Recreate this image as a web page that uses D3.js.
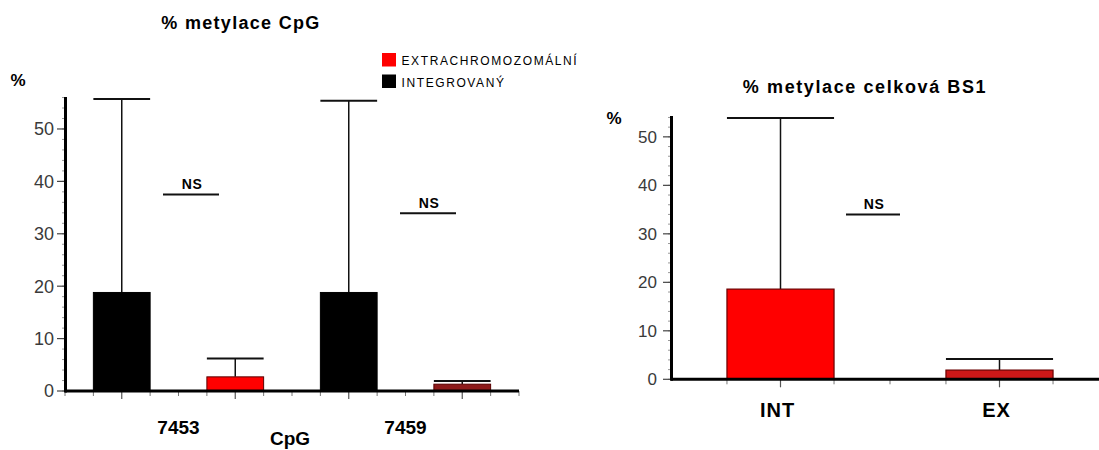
<!DOCTYPE html>
<html>
<head>
<meta charset="utf-8">
<script src="https://cdn.jsdelivr.net/npm/d3@7"></script>
<style>
  html, body { margin: 0; padding: 0; background: #fff; }
  svg { display: block; font-family: "Liberation Sans", Arial, sans-serif; }
</style>
</head>
<body>
<svg id="chart" width="1099" height="450"></svg>
<script>
// ---- Data: methylation per CpG site ----
const cpgSites = ["7453", "7459"];
const seriesNames = ["INTEGROVANÝ", "EXTRACHROMOZOMÁLNÍ"];
const integratedMean = [18.8, 18.8];
const integratedErr = [55.7, 55.4];      // upper end of error bar
const extraMean = [2.7, 1.3];
const extraErr = [6.2, 1.9];
const cpgNsLevel = [37.5, 33.9];
const cpgTicks = [0, 10, 20, 30, 40, 50];

// ---- Data: overall methylation BS1 ----
const bsGroups = ["INT", "EX"];
const bsMean = [18.6, 1.9];
const bsErr = [53.9, 4.2];
const bsNsLevel = [34.0];
const bsTicks = [0, 10, 20, 30, 40, 50];

const svg = d3.select("#chart");

function yAxisDraw(g, y, x0, ticks, fontSize, labelRight) {
  const [lo, hi] = y.domain();
  // minor ticks
  d3.range(0, Math.floor(hi) + 1, 2).forEach(v => {
    g.append("line").attr("x1", x0 - 3).attr("x2", x0)
      .attr("y1", y(v)).attr("y2", y(v))
      .attr("stroke", "#999").attr("stroke-width", 1);
  });
  ticks.forEach(v => {
    g.append("line").attr("x1", x0 - 8).attr("x2", x0)
      .attr("y1", y(v)).attr("y2", y(v))
      .attr("stroke", "#444").attr("stroke-width", 1.2);
    g.append("text").attr("x", labelRight).attr("y", y(v))
      .attr("dy", "0.36em").attr("text-anchor", "end")
      .attr("font-size", fontSize).attr("fill", "#3a3a3a")
      .text(v);
  });
  // axis spine
  g.append("line").attr("x1", x0 + 0.5).attr("x2", x0 + 0.5)
    .attr("y1", y(hi)).attr("y2", y(lo) + 1.5)
    .attr("stroke", "#000").attr("stroke-width", 3);
}

function errorBar(g, cx, halfW, yTop, yEnd) {
  g.append("line").attr("x1", cx).attr("x2", cx)
    .attr("y1", yTop).attr("y2", yEnd)
    .attr("stroke", "#111").attr("stroke-width", 1.5);
  g.append("line").attr("x1", cx - halfW).attr("x2", cx + halfW)
    .attr("y1", yEnd).attr("y2", yEnd)
    .attr("stroke", "#111").attr("stroke-width", 2);
}

function nsMark(g, cx, yLine, halfW) {
  g.append("line").attr("x1", cx - halfW).attr("x2", cx + halfW)
    .attr("y1", yLine).attr("y2", yLine)
    .attr("stroke", "#111").attr("stroke-width", 2);
  g.append("text").attr("x", cx + 1).attr("y", yLine - 5)
    .attr("text-anchor", "middle").attr("font-size", 14)
    .attr("font-weight", "bold").attr("letter-spacing", "0.5px")
    .text("NS");
}

// ================= Left chart: % metylace CpG =================
{
  const g = svg.append("g");
  const x0 = 65, x1 = 519;
  const y = d3.scaleLinear().domain([0, 56.1]).range([391, 97]);
  const xCat = d3.scaleBand().domain(cpgSites).range([x0, x1]).padding(0);
  const xSer = d3.scaleBand().domain(seriesNames).range([0, xCat.bandwidth()])
    .paddingInner(0.5).paddingOuter(0.25);
  const redFill = ["#ff0000", "#8e1b1b"];

  g.append("text").attr("x", 241).attr("y", 29).attr("text-anchor", "middle")
    .attr("font-size", 18).attr("font-weight", "bold").attr("letter-spacing", "1.3px")
    .text("% metylace CpG");
  g.append("text").attr("x", 18).attr("y", 86).attr("text-anchor", "middle")
    .attr("font-size", 17).attr("font-weight", "bold").text("%");

  // legend
  const legendItems = [
    { name: seriesNames[1], color: "#ff0000" },
    { name: seriesNames[0], color: "#000" }
  ];
  legendItems.forEach((d, i) => {
    const ly = 53 + i * 21.5;
    g.append("rect").attr("x", 382).attr("y", ly).attr("width", 14).attr("height", 13.5)
      .attr("fill", d.color);
    g.append("text").attr("x", 401.5).attr("y", ly + 12).attr("font-size", 12)
      .attr("letter-spacing", "1.6px").attr("fill", "#000").text(d.name);
  });

  // baseline ticks
  const minorX = [];
  cpgSites.forEach(c => {
    const b = xCat(c);
    minorX.push(b, b + xCat.bandwidth() / 2);
    seriesNames.forEach(s => {
      minorX.push(b + xSer(s), b + xSer(s) + xSer.bandwidth());
    });
  });
  minorX.push(x1);
  minorX.forEach(mx => {
    g.append("line").attr("x1", mx).attr("x2", mx).attr("y1", y(0)).attr("y2", y(0) + 5)
      .attr("stroke", "#777").attr("stroke-width", 1);
  });

  cpgSites.forEach((c, i) => {
    const b = xCat(c);
    const vals = [
      { s: seriesNames[0], m: integratedMean[i], e: integratedErr[i], fill: "#000", stroke: "#000" },
      { s: seriesNames[1], m: extraMean[i], e: extraErr[i], fill: redFill[i], stroke: "#5a0000" }
    ];
    vals.forEach(v => {
      const bx = b + xSer(v.s), bw = xSer.bandwidth(), cx = bx + bw / 2;
      g.append("line").attr("x1", cx).attr("x2", cx).attr("y1", y(0)).attr("y2", y(0) + 8)
        .attr("stroke", "#555").attr("stroke-width", 1.2);
      errorBar(g, cx, bw / 2, y(v.m), y(v.e));
      g.append("rect").attr("x", bx).attr("y", y(v.m)).attr("width", bw)
        .attr("height", y(0) - y(v.m)).attr("fill", v.fill)
        .attr("stroke", v.stroke).attr("stroke-width", 1);
    });
    g.append("text").attr("x", b + xCat.bandwidth() / 2).attr("y", 434)
      .attr("text-anchor", "middle").attr("font-size", 19).attr("font-weight", "bold")
      .text(c);
  });

  // NS markers
  const nsOffset = [12.5, 22.5];
  cpgSites.forEach((c, i) => {
    nsMark(g, xCat(c) + xCat.bandwidth() / 2 + nsOffset[i], y(cpgNsLevel[i]), 28);
  });

  g.append("line").attr("x1", x0).attr("x2", x1).attr("y1", y(0)).attr("y2", y(0))
    .attr("stroke", "#000").attr("stroke-width", 3);
  yAxisDraw(g, y, x0, cpgTicks, 18, 54);

  g.append("text").attr("x", 290).attr("y", 445).attr("text-anchor", "middle")
    .attr("font-size", 19).attr("font-weight", "bold").text("CpG");
}

// ================= Right chart: % metylace celková BS1 =================
{
  const g = svg.append("g");
  const x0 = 671, x1 = 1109;
  const y = d3.scaleLinear().domain([0, 54.3]).range([379.3, 116]);
  const x = d3.scaleBand().domain(bsGroups).range([x0, x1])
    .paddingInner(0.511).paddingOuter(0.2555);
  const fills = ["#ff0000", "#cc1818"];

  g.append("text").attr("x", 865).attr("y", 93).attr("text-anchor", "middle")
    .attr("font-size", 18).attr("font-weight", "bold").attr("letter-spacing", "1.6px")
    .text("% metylace celková BS1");
  g.append("text").attr("x", 614).attr("y", 124).attr("text-anchor", "middle")
    .attr("font-size", 17).attr("font-weight", "bold").text("%");

  const minorX = [];
  bsGroups.forEach(k => { minorX.push(x(k), x(k) + x.bandwidth()); });
  minorX.push((x(bsGroups[0]) + x(bsGroups[1]) + x.bandwidth()) / 2);
  minorX.forEach(mx => {
    g.append("line").attr("x1", mx).attr("x2", mx).attr("y1", y(0)).attr("y2", y(0) + 5)
      .attr("stroke", "#777").attr("stroke-width", 1);
  });

  bsGroups.forEach((k, i) => {
    const bx = x(k), bw = x.bandwidth(), cx = bx + bw / 2;
    g.append("line").attr("x1", cx).attr("x2", cx).attr("y1", y(0)).attr("y2", y(0) + 8)
      .attr("stroke", "#555").attr("stroke-width", 1.2);
    errorBar(g, cx, bw / 2, y(bsMean[i]), y(bsErr[i]));
    g.append("rect").attr("x", bx).attr("y", y(bsMean[i])).attr("width", bw)
      .attr("height", y(0) - y(bsMean[i])).attr("fill", fills[i])
      .attr("stroke", "#6a0000").attr("stroke-width", 1.2);
    g.append("text").attr("x", cx - 3).attr("y", 417)
      .attr("text-anchor", "middle").attr("font-size", 20).attr("font-weight", "bold")
      .attr("letter-spacing", "1px").text(k);
  });

  const mid = (x(bsGroups[0]) + x(bsGroups[1]) + x.bandwidth()) / 2;
  nsMark(g, mid - 17, y(bsNsLevel[0]), 27);

  g.append("line").attr("x1", x0).attr("x2", 1099).attr("y1", y(0)).attr("y2", y(0))
    .attr("stroke", "#000").attr("stroke-width", 3);
  yAxisDraw(g, y, x0, bsTicks, 17, 657);
}
</script>
</body>
</html>
